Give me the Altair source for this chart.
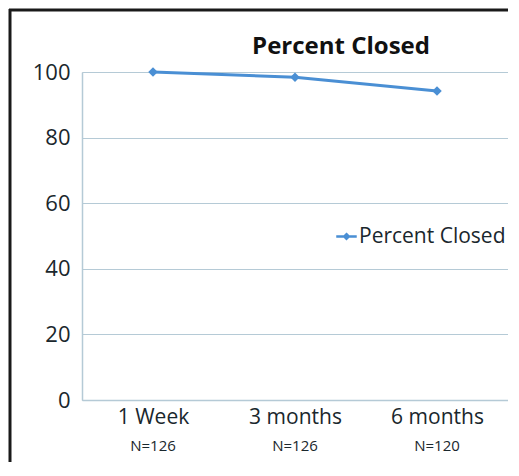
import altair as alt
import pandas as pd

categories = ["1 Week", "3 months", "6 months"]
percent_closed = [100, 98.4, 94.2]
n_labels = ["N=126", "N=126", "N=120"]
series_name = "Percent Closed"

df = pd.DataFrame({
    "period": categories,
    "value": percent_closed,
    "n": n_labels,
    "series": [series_name] * len(categories),
})

BLUE = "#4a8fd4"
GRID = "#b5cad6"
TEXT = "#1a272d"
FONT = "Open Sans"

x_enc = alt.X("period:N", sort=categories,
              scale=alt.Scale(type="point", padding=0.5),
              axis=alt.Axis(title=None, labelAngle=0, labelFontSize=21, labelFont=FONT,
                            labelColor=TEXT, ticks=False, domainColor=GRID,
                            domainWidth=1.5, labelPadding=6, grid=False))

line = alt.Chart(df).mark_line(
    strokeWidth=3,
    point=alt.OverlayMarkDef(shape="diamond", size=90, filled=True, color=BLUE),
).encode(
    x=x_enc,
    y=alt.Y("value:Q", scale=alt.Scale(domain=[0, 100]),
            axis=alt.Axis(title=None, values=[0, 20, 40, 60, 80, 100], labelFontSize=22,
                          labelFont=FONT, labelColor=TEXT, ticks=False, domainColor=GRID,
                          domainWidth=1.5, gridColor=GRID, gridWidth=1.2, labelPadding=12)),
    color=alt.Color("series:N", scale=alt.Scale(range=[BLUE]),
                    legend=alt.Legend(title=None, orient="none", legendX=253, legendY=153,
                                      symbolType="M-1,0H1M0,-0.22L0.22,0L0,0.22L-0.22,0Z",
                                      symbolSize=420, symbolStrokeWidth=2.5,
                                      symbolFillColor=BLUE, symbolStrokeColor=BLUE,
                                      labelFontSize=21, labelFont=FONT, labelColor=TEXT,
                                      labelOffset=1)),
)

n_text = alt.Chart(df).mark_text(fontSize=15, font=FONT, color=TEXT, baseline="middle").encode(
    x=alt.X("period:N", sort=categories, scale=alt.Scale(type="point", padding=0.5)),
    y=alt.value(374),
    text="n:N",
)

title_df = pd.DataFrame({"t": [series_name]})
title_text = alt.Chart(title_df).mark_text(
    fontSize=24, fontWeight="bold", font=FONT, color="#111111",
    align="center", baseline="middle",
).encode(x=alt.value(259), y=alt.value(-25), text="t:N")

frame_df = pd.DataFrame({"a": [0]})
top_rule = alt.Chart(frame_df).mark_rule(color="#1a1a1a", strokeWidth=3).encode(
    x=alt.value(-73), x2=alt.value(440), y=alt.value(-62))
left_rule = alt.Chart(frame_df).mark_rule(color="#1a1a1a", strokeWidth=3).encode(
    x=alt.value(-72), y=alt.value(-63), y2=alt.value(390))

chart = alt.layer(line, n_text, title_text, top_rule, left_rule).properties(
    width=426, height=328,
    autosize=alt.AutoSizeParams(type="none"),
    padding={"left": 74, "top": 64, "right": 0, "bottom": 62},
).configure_view(stroke=None).configure(background="white")

chart.save("out.html", embed_options={"renderer": "svg", "actions": False})
